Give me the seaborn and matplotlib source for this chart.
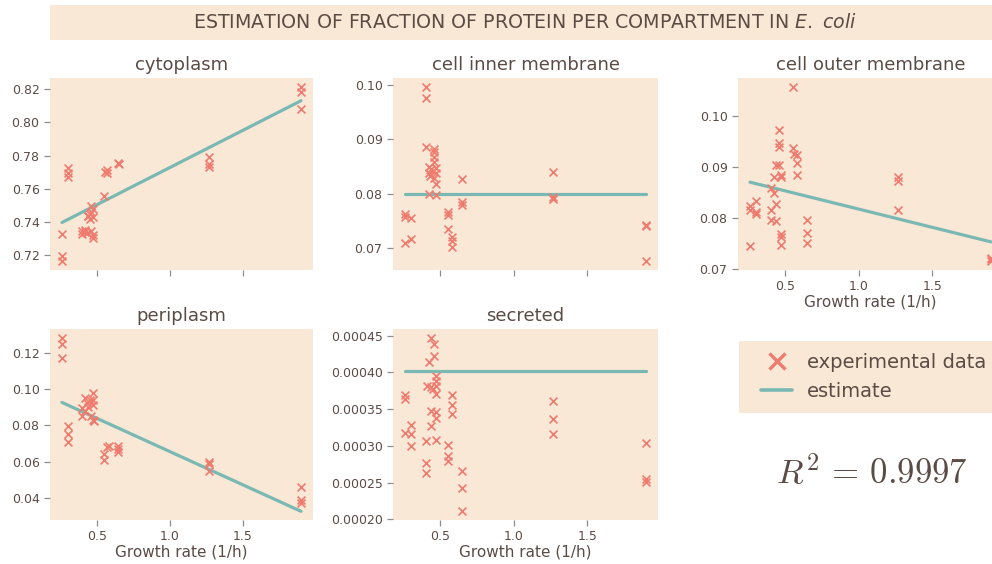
import matplotlib
matplotlib.use('Agg')
import matplotlib.pyplot as plt
import seaborn as sns
from matplotlib.lines import Line2D

# ---------------- data ----------------
est_x = [0.26, 1.90]

cyto_x = [0.26, 0.26, 0.26, 0.30, 0.30, 0.30, 0.40, 0.40, 0.42, 0.42, 0.43,
          0.44, 0.44, 0.45, 0.45, 0.46, 0.46, 0.47, 0.47, 0.46, 0.47, 0.47,
          0.545, 0.555, 0.57, 0.57, 0.645, 0.65, 1.27, 1.27, 1.27, 1.90, 1.90, 1.90]
cyto_y = [0.733, 0.7195, 0.7165, 0.7725, 0.7695, 0.767, 0.7345, 0.733, 0.734, 0.7355, 0.7335,
          0.744, 0.7435, 0.745, 0.742, 0.746, 0.750, 0.748, 0.743, 0.7345, 0.7305, 0.732,
          0.7555, 0.770, 0.7715, 0.7695, 0.7758, 0.7752, 0.7794, 0.775, 0.773, 0.8214, 0.818, 0.808]
cyto_est = [0.7398, 0.8130]

inner_x = [0.26, 0.26, 0.26, 0.30, 0.30, 0.40, 0.40, 0.40, 0.42, 0.42, 0.42, 0.43, 0.44, 0.45,
           0.46, 0.46, 0.46, 0.46, 0.46, 0.47, 0.47, 0.47, 0.47, 0.55, 0.55, 0.55,
           0.58, 0.58, 0.58, 0.65, 0.65, 0.65, 1.27, 1.27, 1.27, 1.90, 1.90, 1.90]
inner_y = [0.0763, 0.0758, 0.0710, 0.0755, 0.0716, 0.0996, 0.0975, 0.0885, 0.0849, 0.0838, 0.0800,
           0.0832, 0.0846, 0.0841, 0.0882, 0.0876, 0.0867, 0.0858, 0.0829, 0.0847, 0.0838, 0.0818,
           0.0798, 0.0766, 0.0760, 0.0736, 0.0721, 0.0713, 0.0703, 0.0827, 0.0784, 0.0780,
           0.0839, 0.0793, 0.0790, 0.0743, 0.0740, 0.0676]
inner_est = [0.0800, 0.0800]

outer_x = [0.26, 0.26, 0.26, 0.30, 0.30, 0.30, 0.40, 0.40, 0.40, 0.42, 0.42, 0.44, 0.44, 0.44,
           0.46, 0.46, 0.46, 0.46, 0.47, 0.47, 0.47, 0.47, 0.47, 0.55, 0.55, 0.56,
           0.58, 0.58, 0.58, 0.65, 0.65, 0.65, 1.27, 1.27, 1.27, 1.90, 1.90, 1.90]
outer_y = [0.0823, 0.0816, 0.0745, 0.0833, 0.0812, 0.0808, 0.0815, 0.0796, 0.0859, 0.0849, 0.0881,
           0.0903, 0.0828, 0.0794, 0.0972, 0.0946, 0.0939, 0.0903, 0.0884, 0.0881, 0.0768, 0.0762,
           0.0746, 0.1057, 0.0936, 0.0926, 0.0923, 0.0907, 0.0884, 0.0795, 0.0770, 0.0750,
           0.0881, 0.0873, 0.0815, 0.0722, 0.0719, 0.0715]
outer_est = [0.0870, 0.0753]

peri_x = [0.26, 0.26, 0.26, 0.30, 0.30, 0.30, 0.40, 0.40, 0.42, 0.42, 0.43, 0.44, 0.45, 0.46,
          0.47, 0.47, 0.47, 0.47, 0.48, 0.55, 0.55, 0.57, 0.58, 0.645, 0.645, 0.645,
          1.27, 1.27, 1.27, 1.90, 1.90, 1.90]
peri_y = [0.1285, 0.1249, 0.1171, 0.0797, 0.0755, 0.0706, 0.0851, 0.0896, 0.0950, 0.0878, 0.0923,
          0.0900, 0.0941, 0.0851, 0.0977, 0.0941, 0.0914, 0.0832, 0.0827, 0.0642, 0.0606, 0.0679,
          0.0688, 0.0688, 0.0670, 0.0652, 0.0599, 0.0586, 0.0550, 0.0460, 0.0387, 0.0369]
peri_est = [0.0927, 0.0325]

secr_x = [0.26, 0.26, 0.26, 0.30, 0.30, 0.30, 0.40, 0.40, 0.40, 0.41, 0.42, 0.44, 0.44, 0.44, 0.44,
          0.45, 0.46, 0.46, 0.47, 0.47, 0.47, 0.47, 0.47, 0.47, 0.47, 0.55, 0.55, 0.55,
          0.58, 0.58, 0.58, 0.65, 0.65, 0.65, 1.27, 1.27, 1.27, 1.90, 1.90, 1.90]
secr_y = [0.0003687, 0.0003642, 0.0003171, 0.0003283, 0.0003158, 0.0002992, 0.0003068, 0.0002767,
          0.0002633, 0.0003813, 0.0004136, 0.0004473, 0.0003800, 0.0003471, 0.0003275, 0.0003780,
          0.0004383, 0.0004225, 0.0003956, 0.0003889, 0.0003820, 0.0003710, 0.0003463, 0.0003373,
          0.0003081, 0.0003006, 0.0002858, 0.0002798, 0.0003687, 0.0003562, 0.0003427, 0.0002656,
          0.0002421, 0.0002108, 0.0003616, 0.0003369, 0.0003167, 0.0003033, 0.0002548, 0.0002502]
secr_est = [0.000402, 0.000402]

titles = ["cytoplasm", "cell inner membrane", "cell outer membrane", "periplasm", "secreted"]
xlabel_text = "Growth rate (1/h)"
legend_labels = ["experimental data", "estimate"]
r2_text = r"$R^2 \,=\, 0.9997$"
suptitle_text = r"ESTIMATION OF FRACTION OF PROTEIN PER COMPARTMENT IN $\it{E.}$ $\it{coli}$"

# ---------------- style ----------------
W, H = 992, 564
BG = '#FAE8D6'
RED = '#EF7A6E'
TEAL = '#7AB9B3'
TXT = '#5B4B45'
TICK = '#8C8C8C'

sns.set_theme(style='ticks')
plt.rcParams['font.family'] = ['DejaVu Sans']
plt.rcParams['text.color'] = TXT

fig = plt.figure(figsize=(W / 100, H / 100), dpi=100)
fig.patch.set_facecolor('white')


def px_axes(l, t, r, b):
    return fig.add_axes([l / W, 1 - b / H, (r - l) / W, (b - t) / H])


def plain(ax):
    ax.set_facecolor(BG)
    for s in ax.spines.values():
        s.set_visible(False)


panels = [
    (titles[0], cyto_x, cyto_y, cyto_est, (50, 78, 313, 270), False),
    (titles[1], inner_x, inner_y, inner_est, (393, 78, 658, 270), False),
    (titles[2], outer_x, outer_y, outer_est, (738, 78, 1003, 270), True),
    (titles[3], peri_x, peri_y, peri_est, (50, 329, 313, 520), True),
    (titles[4], secr_x, secr_y, secr_est, (393, 329, 658, 520), True),
]

for title, xs, ys, est, rect, show_x in panels:
    ax = px_axes(*rect)
    plain(ax)
    sns.lineplot(x=est_x, y=est, ax=ax, color=TEAL, linewidth=2.3, estimator=None)
    sns.scatterplot(x=xs, y=ys, ax=ax, marker='x', color=RED, s=32, linewidth=1.2, zorder=3)
    ax.set_title(title, fontsize=13, color=TXT, pad=6)
    ax.tick_params(axis='both', labelsize=9, color=TICK, labelcolor=TXT, length=4, width=0.9)
    ax.set_ylabel('')
    if show_x:
        ax.set_xlabel(xlabel_text, fontsize=11, color=TXT, labelpad=1)
    else:
        ax.set_xlabel('')
        ax.tick_params(axis='x', labelbottom=False)

# title banner
tax = px_axes(50, 5, 1003, 40)
plain(tax)
tax.set_xticks([])
tax.set_yticks([])
tax.text(0.4985, 0.5, suptitle_text, transform=tax.transAxes, ha='center', va='center',
         fontsize=13.7, color=TXT)

# legend box
lax = px_axes(739, 341, 1003, 413)
plain(lax)
lax.set_xticks([])
lax.set_yticks([])
handles = [
    Line2D([], [], linestyle='none', marker='x', color=RED, markersize=12, markeredgewidth=2.4),
    Line2D([], [], color=TEAL, linewidth=2.6),
]
fig.legend(handles, legend_labels, loc='upper left', bbox_to_anchor=(761 / W, 1 - 353 / H),
           frameon=False, fontsize=14, handlelength=1.6, handletextpad=0.77,
           labelspacing=0.5, borderpad=0, borderaxespad=0, labelcolor=TXT)

fig.text(872 / W, 1 - 473 / H, r2_text, ha='center', va='center', fontsize=25,
         color=TXT, math_fontfamily='cm')

fig.savefig('out.png', dpi=100, facecolor='white')
